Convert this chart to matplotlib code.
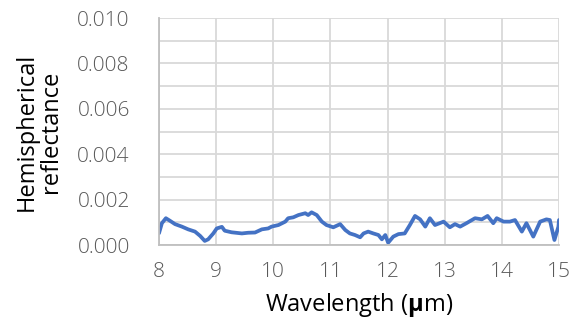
import numpy as np
import matplotlib.pyplot as plt
from matplotlib.ticker import MultipleLocator

# Wavelength (um) and hemispherical reflectance
wavelength = [8.00, 8.05, 8.12, 8.19, 8.28, 8.40, 8.51, 8.63, 8.72, 8.80, 8.86, 8.95,
              9.01, 9.10, 9.15, 9.27, 9.45, 9.56, 9.68, 9.80, 9.91, 9.97, 10.09, 10.21,
              10.26, 10.35, 10.44, 10.56, 10.61, 10.67, 10.76, 10.85, 10.93, 11.05, 11.17,
              11.26, 11.34, 11.43, 11.52, 11.58, 11.66, 11.75, 11.84, 11.90, 11.96, 12.01,
              12.10, 12.19, 12.30, 12.39, 12.48, 12.57, 12.66, 12.74, 12.83, 12.98, 13.09,
              13.18, 13.27, 13.38, 13.53, 13.65, 13.75, 13.85, 13.91, 14.03, 14.14, 14.23,
              14.35, 14.43, 14.55, 14.67, 14.78, 14.84, 14.92, 14.99, 15.00]
reflectance = [0.00052, 0.00096, 0.00118, 0.00107, 0.00092, 0.00081, 0.00069, 0.00059,
               0.00040, 0.00018, 0.00025, 0.00051, 0.00073, 0.00080, 0.00063, 0.00056,
               0.00051, 0.00054, 0.00055, 0.00069, 0.00073, 0.00081, 0.00088, 0.00103,
               0.00118, 0.00122, 0.00132, 0.00140, 0.00132, 0.00144, 0.00132, 0.00103,
               0.00088, 0.00078, 0.00092, 0.00066, 0.00051, 0.00044, 0.00034, 0.00051,
               0.00059, 0.00051, 0.00044, 0.00025, 0.00044, 0.00010, 0.00037, 0.00048,
               0.00051, 0.00088, 0.00128, 0.00113, 0.00081, 0.00118, 0.00088, 0.00103,
               0.00078, 0.00092, 0.00081, 0.00096, 0.00118, 0.00113, 0.00128, 0.00096,
               0.00118, 0.00103, 0.00103, 0.00110, 0.00059, 0.00096, 0.00037, 0.00103,
               0.00113, 0.00110, 0.00022, 0.00081, 0.00110]

x_ticks = [8, 9, 10, 11, 12, 13, 14, 15]
y_ticks = [0.000, 0.002, 0.004, 0.006, 0.008, 0.010]

plt.rcParams['font.family'] = ['Open Sans', 'DejaVu Sans']
plt.rcParams['font.weight'] = 'light'
plt.rcParams['mathtext.fontset'] = 'custom'
plt.rcParams['mathtext.bf'] = 'Open Sans:bold'

fig = plt.figure(figsize=(5.77, 3.31), dpi=100)
ax = fig.add_axes([0.2756, 0.2598, 0.6932, 0.6858])

ax.plot(wavelength, reflectance, color='#4472C4', linewidth=2.7, solid_capstyle='round')

ax.set_xlim(8, 15)
ax.set_ylim(0, 0.010)
ax.set_xticks(x_ticks)
ax.set_yticks(y_ticks)
ax.set_xticklabels([str(t) for t in x_ticks])
ax.set_yticklabels(['%.3f' % t for t in y_ticks])
ax.yaxis.set_minor_locator(MultipleLocator(0.001))

ax.grid(True, which='both', color='#d9d9d9', linewidth=1.3)
ax.set_axisbelow(True)
ax.tick_params(which='both', length=0, labelsize=15, labelcolor='#595959')
ax.tick_params(axis='y', pad=21)
ax.tick_params(axis='x', pad=12)

for side in ['top', 'right']:
    ax.spines[side].set_visible(False)
for side in ['left', 'bottom']:
    ax.spines[side].set_color('#bfbfbf')
    ax.spines[side].set_linewidth(1.3)

ax.set_xlabel(r'Wavelength ($\mathbf{\mu}$m)', fontsize=17, color='black', labelpad=7)
ax.set_ylabel('Hemispherical\nreflectance', fontsize=17, color='black',
              linespacing=1.05, labelpad=10)

fig.savefig('out.png', dpi=100)
